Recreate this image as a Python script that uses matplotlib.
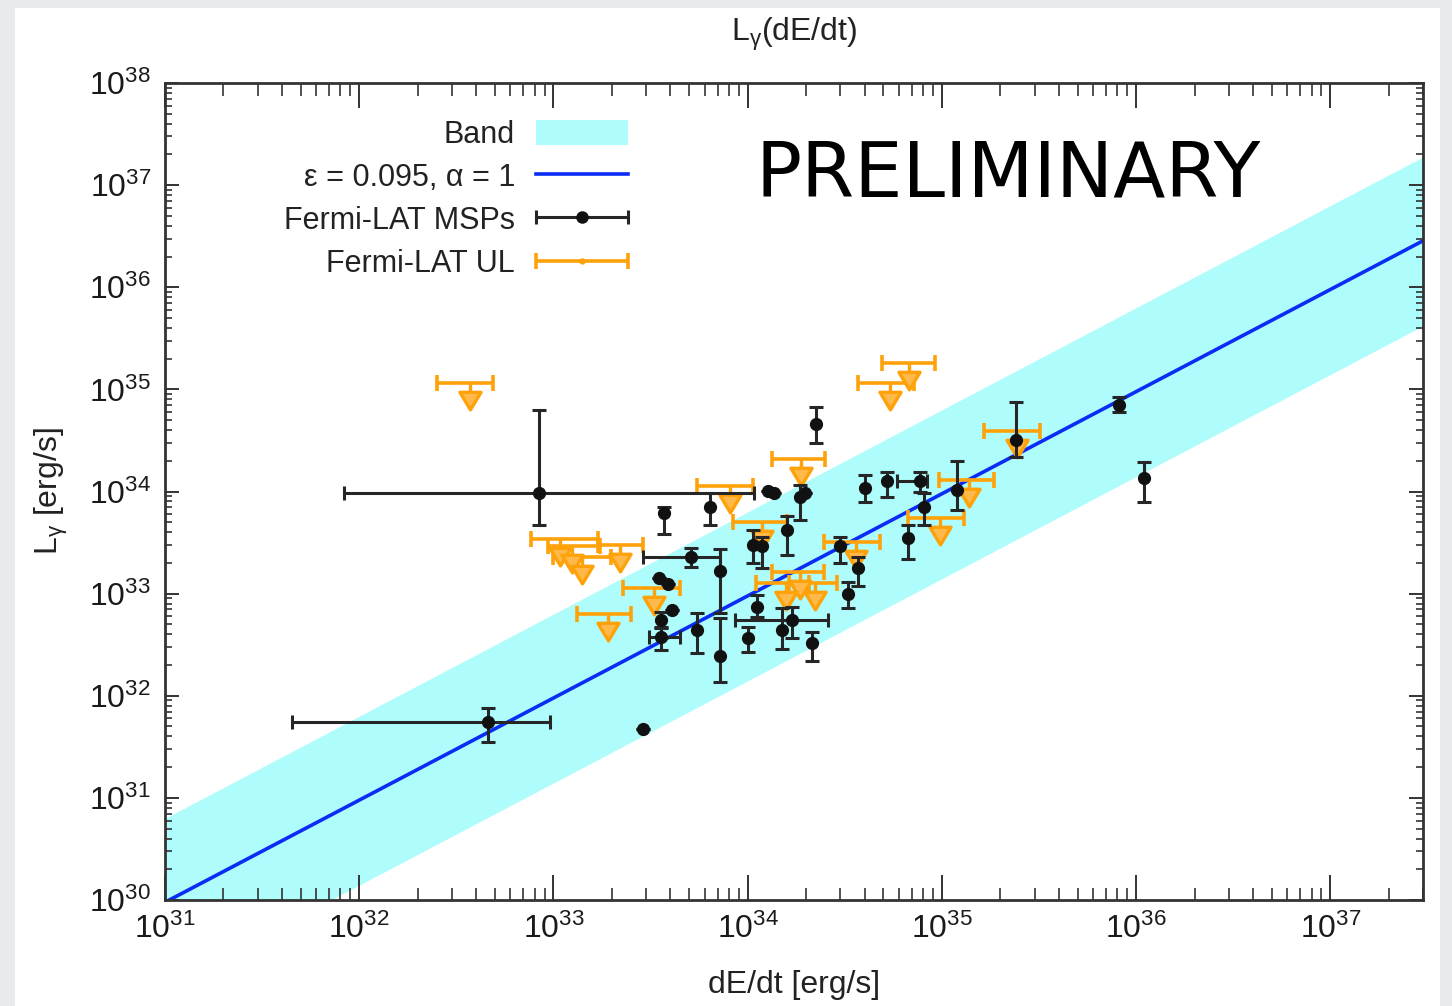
import numpy as np
import matplotlib
matplotlib.use("Agg")
import matplotlib.pyplot as plt
from matplotlib import font_manager
from matplotlib.patches import Patch, Rectangle
from matplotlib.path import Path
from matplotlib.legend_handler import HandlerErrorbar
from matplotlib.ticker import FixedLocator, FuncFormatter, NullFormatter

# Fermi-LAT millisecond pulsars: spin-down power and gamma-ray luminosity [erg/s]
msp_x = [4.6e32, 8.4e32, 2.9e33, 3.7e33, 6.4e33, 5.1e33, 7.2e33, 7.2e33, 3.5e33, 3.9e33,
         3.6e33, 4.1e33, 3.6e33, 5.5e33, 1.0e34, 1.12e34, 1.7e34, 1.5e34, 2.15e34, 3.3e34,
         2.26e34, 1.28e34, 1.37e34, 1.85e34, 1.98e34, 1.6e34, 1.06e34, 1.19e34, 4.0e34, 5.2e34,
         7.7e34, 8.1e34, 6.7e34, 1.19e35, 3.0e34, 3.7e34, 2.4e35, 8.2e35, 1.1e36]
msp_x_lo = [4.5e31, 8.3e31, 2.9e33, 3.7e33, 6.4e33, 2.9e33, 7.2e33, 7.2e33, 3.5e33, 3.9e33,
            3.6e33, 4.1e33, 3.1e33, 5.5e33, 1.0e34, 1.12e34, 8.6e33, 1.5e34, 2.15e34, 3.3e34,
            2.26e34, 1.28e34, 1.37e34, 1.85e34, 1.98e34, 1.6e34, 1.06e34, 1.19e34, 4.0e34, 5.2e34,
            5.9e34, 8.1e34, 6.7e34, 1.19e35, 3.0e34, 3.7e34, 2.4e35, 8.2e35, 1.1e36]
msp_x_hi = [9.6e32, 1.08e34, 2.9e33, 3.7e33, 6.4e33, 7.2e33, 7.2e33, 7.2e33, 3.5e33, 3.9e33,
            3.6e33, 4.1e33, 4.5e33, 5.5e33, 1.0e34, 1.12e34, 2.6e34, 1.5e34, 2.15e34, 3.3e34,
            2.26e34, 1.28e34, 1.37e34, 1.85e34, 1.98e34, 1.6e34, 1.06e34, 1.19e34, 4.0e34, 5.2e34,
            8.4e34, 8.1e34, 6.7e34, 1.19e35, 3.0e34, 3.7e34, 2.4e35, 8.2e35, 1.1e36]
msp_y = [5.5e31, 9.7e33, 4.7e31, 6.2e33, 7.1e33, 2.3e33, 1.67e33, 2.45e32, 1.43e33, 1.24e33,
         5.5e32, 6.9e32, 3.8e32, 4.4e32, 3.7e32, 7.4e32, 5.5e32, 4.4e32, 3.3e32, 1.0e33,
         4.6e34, 1.01e34, 9.7e33, 8.9e33, 9.7e33, 4.2e33, 3.0e33, 2.9e33, 1.08e34, 1.27e34,
         1.27e34, 7.1e33, 3.5e33, 1.04e34, 2.9e33, 1.8e33, 3.2e34, 7.0e34, 1.36e34]
msp_y_lo = [3.5e31, 4.7e33, 4.7e31, 3.8e33, 4.7e33, 1.83e33, 6.5e32, 1.37e32, 1.43e33, 1.24e33,
            4.6e32, 6.9e32, 2.8e32, 2.6e32, 2.7e32, 5.9e32, 3.7e32, 2.9e32, 2.2e32, 7.2e32,
            3.0e34, 1.01e34, 9.7e33, 5.3e33, 9.7e33, 2.4e33, 2.0e33, 1.8e33, 7.9e33, 8.9e33,
            9.9e33, 4.7e33, 2.2e33, 6.6e33, 2.0e33, 1.2e33, 2.2e34, 6.0e34, 7.9e33]
msp_y_hi = [7.6e31, 6.3e34, 4.7e31, 7.1e33, 9.7e33, 2.8e33, 2.74e33, 5.8e32, 1.43e33, 1.24e33,
            6.6e32, 6.9e32, 4.7e32, 6.5e32, 4.7e32, 9.7e32, 7.4e32, 7.2e32, 4.2e32, 1.3e33,
            6.7e34, 1.01e34, 9.7e33, 1.16e34, 9.7e33, 5.8e33, 4.2e33, 3.6e33, 1.46e34, 1.56e34,
            1.56e34, 9.7e33, 4.7e33, 2.0e34, 3.6e33, 2.3e33, 7.5e34, 8.5e34, 1.95e34]

# upper limits
ul_x = [3.7e32, 1.08e33, 1.24e33, 1.40e33, 2.19e33, 1.90e33, 3.3e33, 8.1e33, 1.89e34, 1.19e34,
        1.85e34, 1.58e34, 2.21e34, 3.6e34, 6.8e34, 5.4e34, 2.44e35, 1.38e35, 9.8e34]
ul_x_lo = [2.5e32, 7.7e32, 9.4e32, 9.9e32, 1.69e33, 1.33e33, 2.27e33, 5.5e33, 1.33e34, 8.4e33,
           1.33e34, 1.11e34, 1.64e34, 2.48e34, 4.9e34, 3.7e34, 1.65e35, 9.7e34, 6.7e34]
ul_x_hi = [4.9e32, 1.69e33, 1.73e33, 1.99e33, 2.88e33, 2.5e33, 4.5e33, 1.06e34, 2.5e34, 1.6e34,
           2.48e34, 2.08e34, 2.9e34, 4.8e34, 9.2e34, 7.2e34, 3.2e35, 1.86e35, 1.30e35]
ul_y = [1.16e35, 3.4e33, 2.9e33, 2.3e33, 3.0e33, 6.3e32, 1.14e33, 1.13e34, 2.08e34, 5.0e33,
        1.63e33, 1.27e33, 1.27e33, 3.2e33, 1.82e35, 1.16e35, 3.9e34, 1.30e34, 5.5e33]

# model L = eps * Edot, band spans eps_lo..eps_hi
eps = 0.095
eps_lo, eps_hi = 0.014, 0.63
x_range = [1e31, 3e37]
y_range = [1e30, 1e38]

names = {f.name for f in font_manager.fontManager.ttflist}
font = "Liberation Sans Narrow" if "Liberation Sans Narrow" in names else "Liberation Sans"
plt.rcParams["font.family"] = [font, "DejaVu Sans"]

c_band = "#aefcfc"
c_line = "#0a2cf5"
c_ul = "#ffa20a"
c_msp = "#111111"
c_err = "#262626"

fig = plt.figure(figsize=(14.52, 10.06), dpi=100, facecolor="#e8eaed")
fig.patches.append(Rectangle((15 / 1452, 0), 1425 / 1452, 998 / 1006,
                             transform=fig.transFigure, facecolor="white",
                             edgecolor="none", zorder=-10))
ax = fig.add_axes([165 / 1452, 1 - 900 / 1006, 1258 / 1452, 817 / 1006])
ax.set_xscale("log")
ax.set_yscale("log")
ax.set_xlim(x_range)
ax.set_ylim(y_range)

xs = np.array(x_range)
ax.fill_between(xs, eps_lo * xs, eps_hi * xs, color=c_band, lw=0, zorder=1)
line, = ax.plot(xs, eps * xs, color=c_line, lw=2.6, zorder=2)

mx = np.array(msp_x)
my = np.array(msp_y)
mxlo, mxhi = np.array(msp_x_lo), np.array(msp_x_hi)
mylo, myhi = np.array(msp_y_lo), np.array(msp_y_hi)
ax.errorbar(mx, my, yerr=[my - mylo, myhi - my], fmt="o", ms=8.5, color=c_msp,
            ecolor=c_err, elinewidth=2.2, capsize=5, capthick=2.2, zorder=4)
hx = mxhi > mxlo
ax.errorbar(mx[hx], my[hx], xerr=[mx[hx] - mxlo[hx], mxhi[hx] - mx[hx]], fmt="none",
            ecolor=c_err, elinewidth=2.2, capsize=5, capthick=2.2, zorder=4)

# down arrow marker: short stem from the limit, then a triangle
arrow = Path([(0, 0), (0, -0.5), (-0.6, -0.5), (0.6, -0.5), (0, -1.5), (-0.6, -0.5)],
             [Path.MOVETO, Path.LINETO, Path.MOVETO, Path.LINETO, Path.LINETO, Path.CLOSEPOLY])
ux = np.array(ul_x)
uy = np.array(ul_y)
ax.errorbar(ux, uy, xerr=[ux - np.array(ul_x_lo), np.array(ul_x_hi) - ux], fmt="none",
            ecolor=c_ul, elinewidth=2.6, capsize=5.5, capthick=2.6, zorder=3)
ax.plot(ux, uy, ls="none", marker=arrow, ms=38, mfc="#ffb84a", mec=c_ul, mew=2.4, zorder=3)

# axes styling: ticks on all four sides, pointing in
for s in ax.spines.values():
    s.set_linewidth(2)
    s.set_color("#333333")
ax.xaxis.set_major_locator(FixedLocator([10.0 ** k for k in range(31, 38)]))
ax.yaxis.set_major_locator(FixedLocator([10.0 ** k for k in range(30, 39)]))
ax.xaxis.set_minor_locator(FixedLocator([m * 10.0 ** k for k in range(31, 38) for m in range(2, 10)]))
ax.yaxis.set_minor_locator(FixedLocator([m * 10.0 ** k for k in range(30, 38) for m in range(2, 10)]))
fmt = FuncFormatter(lambda v, p: r"$\mathregular{10^{%d}}$" % round(np.log10(v)))
ax.xaxis.set_major_formatter(fmt)
ax.yaxis.set_major_formatter(fmt)
ax.xaxis.set_minor_formatter(NullFormatter())
ax.yaxis.set_minor_formatter(NullFormatter())
ax.tick_params(axis="x", which="major", direction="in", top=True, length=18, width=1.4,
               labelsize=23, pad=10, color="#333333", labelcolor="#1a1a1a")
ax.tick_params(axis="x", which="minor", direction="in", top=True, length=9, width=1.2,
               color="#333333")
ax.tick_params(axis="y", which="major", direction="in", right=True, length=10, width=1.4,
               labelsize=23, pad=10, color="#333333", labelcolor="#1a1a1a")
ax.tick_params(axis="y", which="minor", direction="in", right=True, length=5, width=1.2,
               color="#333333")

ax.set_title(r"$\mathregular{L_{γ}}$(dE/dt)", fontsize=23, pad=30, color="#222222")
ax.set_xlabel("dE/dt [erg/s]", fontsize=23, labelpad=18, color="#222222")
ax.set_ylabel(r"$\mathregular{L_{γ}}$ [erg/s]", fontsize=23, labelpad=14, color="#222222")

ax.text(0.67, 0.887, "PRELIMINARY", transform=ax.transAxes, ha="center", va="center",
        fontsize=55, family="DejaVu Sans", color="black", zorder=6)

# legend handles
band_h = Patch(facecolor=c_band, edgecolor="none")
msp_h = ax.errorbar([np.nan], [np.nan], xerr=[1.0], fmt="o", ms=8, color=c_msp,
                    ecolor=c_err, elinewidth=2.2, capsize=5, capthick=2.2)
ul_h = ax.errorbar([np.nan], [np.nan], xerr=[1.0], fmt="o", ms=3.5, color=c_ul,
                   ecolor=c_ul, elinewidth=2.6, capsize=5.5, capthick=2.6)
hl = 3.0
leg = ax.legend([band_h, line, msp_h, ul_h],
                ["Band", "ε = 0.095, α = 1", "Fermi-LAT MSPs", "Fermi-LAT UL"],
                loc="upper right", bbox_to_anchor=(0.368, 0.955), frameon=False,
                markerfirst=False, fontsize=22, handlelength=hl, handleheight=0.9,
                handletextpad=0.7, labelspacing=0.42, borderaxespad=0, borderpad=0,
                handler_map={msp_h: HandlerErrorbar(xerr_size=hl / 2, numpoints=1),
                             ul_h: HandlerErrorbar(xerr_size=hl / 2, numpoints=1)})
for t in leg.get_texts():
    t.set_ha("right")
    t.set_color("#222222")
leg.set_zorder(5)

fig.savefig("out.png", dpi=100, facecolor=fig.get_facecolor())
